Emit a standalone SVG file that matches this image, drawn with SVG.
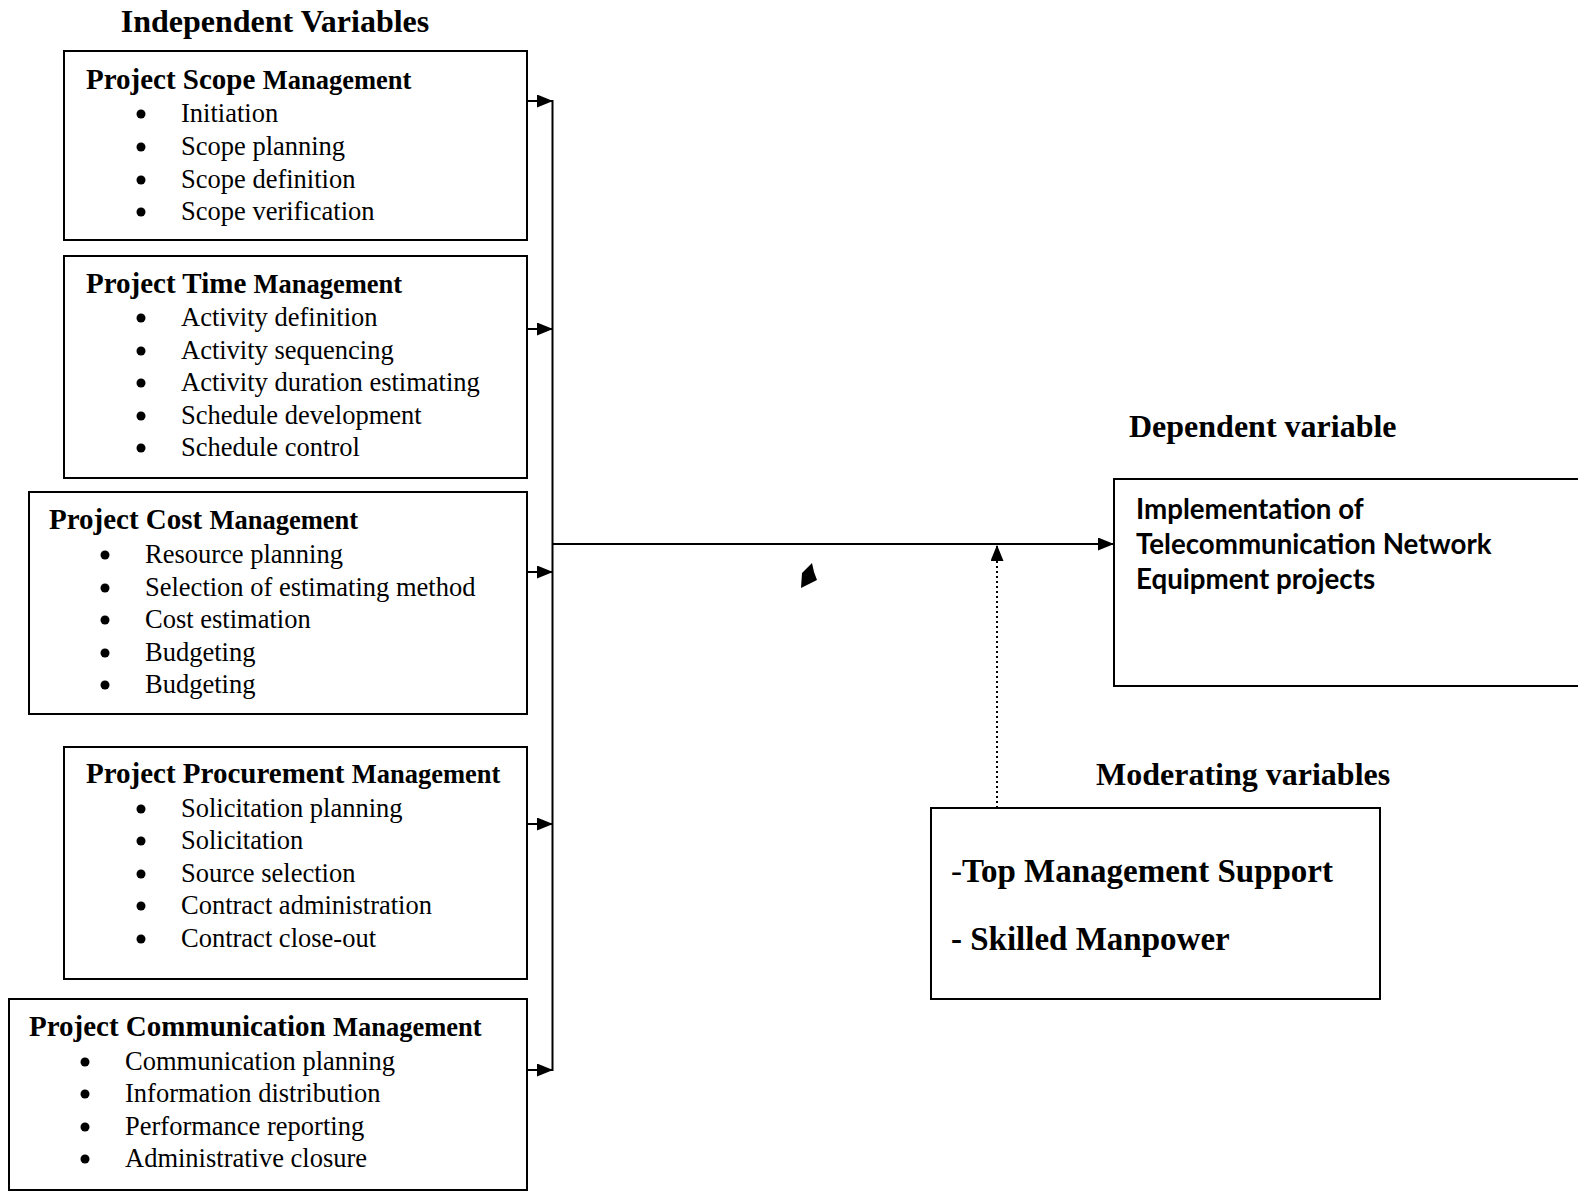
<svg xmlns="http://www.w3.org/2000/svg" width="1578" height="1191" viewBox="0 0 1578 1191">
<style>
.box{fill:#fff;stroke:#000;stroke-width:2}
.h{font-family:"Liberation Serif","Times New Roman",serif;font-weight:bold;font-size:32px;fill:#000}
.t1{font-family:"Liberation Serif","Times New Roman",serif;font-weight:bold;font-size:29px;fill:#000}
.t2{font-size:26.5px}
.it{font-family:"Liberation Serif","Times New Roman",serif;font-size:26.5px;fill:#000}
.bu{fill:#000}
.dep{font-family:Lato,"Open Sans",sans-serif;font-weight:bold;font-size:27.7px;fill:#000}
.mod{font-family:"Liberation Serif","Times New Roman",serif;font-weight:bold;font-size:33px;fill:#000}
.ln{fill:none;stroke:#000;stroke-width:2}
.dot{fill:none;stroke:#000;stroke-width:2;stroke-dasharray:2 3}
</style>
<defs>
<marker id="arr" viewBox="0 0 16 13" refX="16" refY="6.5" markerWidth="16" markerHeight="13" markerUnits="userSpaceOnUse" orient="auto">
<path d="M0,0 L16,6.5 L0,13 Z" fill="#000" stroke="none"/>
</marker>
</defs>
<rect width="1578" height="1191" fill="#fff"/>

<text class="h" x="275" y="32" text-anchor="middle">Independent Variables</text>
<text class="h" x="1129" y="437">Dependent variable</text>
<text class="h" x="1096" y="785">Moderating variables</text>

<g id="scope">
<rect class="box" x="64" y="51" width="463" height="189"/>
<text class="t1" x="86" y="89">Project Scope <tspan class="t2">Management</tspan></text>
<circle class="bu" cx="141" cy="114" r="4.5"/><text class="it" x="181" y="122">Initiation</text>
<circle class="bu" cx="141" cy="147" r="4.5"/><text class="it" x="181" y="155">Scope planning</text>
<circle class="bu" cx="141" cy="180" r="4.5"/><text class="it" x="181" y="188">Scope definition</text>
<circle class="bu" cx="141" cy="212" r="4.5"/><text class="it" x="181" y="220">Scope verification</text>
</g>

<g id="time">
<rect class="box" x="64" y="256" width="463" height="222"/>
<text class="t1" x="86" y="293">Project Time <tspan class="t2">Management</tspan></text>
<circle class="bu" cx="141" cy="318" r="4.5"/><text class="it" x="181" y="326">Activity definition</text>
<circle class="bu" cx="141" cy="351" r="4.5"/><text class="it" x="181" y="359">Activity sequencing</text>
<circle class="bu" cx="141" cy="383" r="4.5"/><text class="it" x="181" y="391">Activity duration estimating</text>
<circle class="bu" cx="141" cy="416" r="4.5"/><text class="it" x="181" y="424">Schedule development</text>
<circle class="bu" cx="141" cy="448" r="4.5"/><text class="it" x="181" y="456">Schedule control</text>
</g>

<g id="cost">
<rect class="box" x="29" y="492" width="498" height="222"/>
<text class="t1" x="49" y="529">Project Cost <tspan class="t2">Management</tspan></text>
<circle class="bu" cx="105" cy="555" r="4.5"/><text class="it" x="145" y="563">Resource planning</text>
<circle class="bu" cx="105" cy="588" r="4.5"/><text class="it" x="145" y="596">Selection of estimating method</text>
<circle class="bu" cx="105" cy="620" r="4.5"/><text class="it" x="145" y="628">Cost estimation</text>
<circle class="bu" cx="105" cy="653" r="4.5"/><text class="it" x="145" y="661">Budgeting</text>
<circle class="bu" cx="105" cy="685" r="4.5"/><text class="it" x="145" y="693">Budgeting</text>
</g>

<g id="procurement">
<rect class="box" x="64" y="747" width="463" height="232"/>
<text class="t1" x="86" y="783">Project Procurement <tspan class="t2">Management</tspan></text>
<circle class="bu" cx="141" cy="809" r="4.5"/><text class="it" x="181" y="817">Solicitation planning</text>
<circle class="bu" cx="141" cy="841" r="4.5"/><text class="it" x="181" y="849">Solicitation</text>
<circle class="bu" cx="141" cy="874" r="4.5"/><text class="it" x="181" y="882">Source selection</text>
<circle class="bu" cx="141" cy="906" r="4.5"/><text class="it" x="181" y="914">Contract administration</text>
<circle class="bu" cx="141" cy="939" r="4.5"/><text class="it" x="181" y="947">Contract close-out</text>
</g>

<g id="communication">
<rect class="box" x="9" y="999" width="518" height="191"/>
<text class="t1" x="29" y="1036">Project Communication <tspan class="t2">Management</tspan></text>
<circle class="bu" cx="85" cy="1062" r="4.5"/><text class="it" x="125" y="1070">Communication planning</text>
<circle class="bu" cx="85" cy="1094" r="4.5"/><text class="it" x="125" y="1102">Information distribution</text>
<circle class="bu" cx="85" cy="1127" r="4.5"/><text class="it" x="125" y="1135">Performance reporting</text>
<circle class="bu" cx="85" cy="1159" r="4.5"/><text class="it" x="125" y="1167">Administrative closure</text>
</g>

<g id="dependent">
<rect class="box" x="1114" y="479" width="480" height="207"/>
<text class="dep" x="1136" y="519">Implementation of</text>
<text class="dep" x="1136" y="554">Telecommunication Network</text>
<text class="dep" x="1136" y="589">Equipment projects</text>
</g>

<g id="moderating">
<rect class="box" x="931" y="808" width="449" height="191"/>
<text class="mod" x="951" y="882"><tspan font-weight="normal">-</tspan>Top Management Support</text>
<text class="mod" x="951" y="950">- Skilled Manpower</text>
</g>

<g id="connectors">
<line class="ln" x1="552.5" y1="100" x2="552.5" y2="1071"/>
<line class="ln" x1="527" y1="101" x2="553" y2="101" marker-end="url(#arr)"/>
<line class="ln" x1="527" y1="329" x2="553" y2="329" marker-end="url(#arr)"/>
<line class="ln" x1="527" y1="572" x2="553" y2="572" marker-end="url(#arr)"/>
<line class="ln" x1="527" y1="824" x2="553" y2="824" marker-end="url(#arr)"/>
<line class="ln" x1="527" y1="1070" x2="553" y2="1070" marker-end="url(#arr)"/>
<line class="ln" x1="552.5" y1="544" x2="1114" y2="544" marker-end="url(#arr)"/>
<line class="dot" x1="997" y1="808" x2="997" y2="545" marker-end="url(#arr)"/>
<path d="M812,563 L802,573 L801,588 L817,580 L814,572 Z" fill="#000"/>
</g>
</svg>
